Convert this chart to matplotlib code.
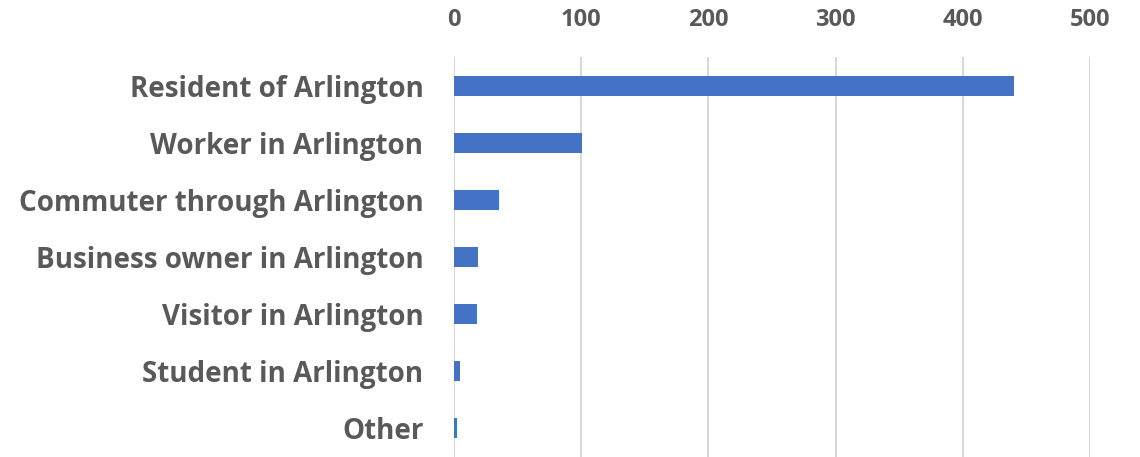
import matplotlib.pyplot as plt

categories = ['Resident of Arlington', 'Worker in Arlington', 'Commuter through Arlington',
              'Business owner in Arlington', 'Visitor in Arlington', 'Student in Arlington', 'Other']
counts = [440, 101, 35, 19, 18, 5, 2]
ticks = [0, 100, 200, 300, 400, 500]

plt.rcParams['font.family'] = ['Open Sans', 'DejaVu Sans']
plt.rcParams['font.weight'] = 'bold'

fig = plt.figure(figsize=(11.4, 4.57), dpi=100)
ax = fig.add_axes([454 / 1140, 0, (1090 - 454) / 1140, 400 / 457])

ypos = list(range(len(categories)))
ax.barh(ypos, counts, height=0.35, color='#4472C4', zorder=3)
ax.set_ylim(len(categories) - 0.5, -0.5)
ax.set_xlim(0, 500)
ax.set_xticks(ticks)
ax.set_yticks(ypos)
ax.set_yticklabels(categories)

ax.xaxis.tick_top()
ax.tick_params(axis='x', length=0, pad=18, labelsize=17, labelcolor='#595959')
ax.tick_params(axis='y', length=0, pad=22, labelsize=20, labelcolor='#595959')
ax.grid(axis='x', color='#d9d9d9', linewidth=1.5, zorder=0)
for s in ax.spines.values():
    s.set_visible(False)

fig.savefig('out.png', dpi=100)
